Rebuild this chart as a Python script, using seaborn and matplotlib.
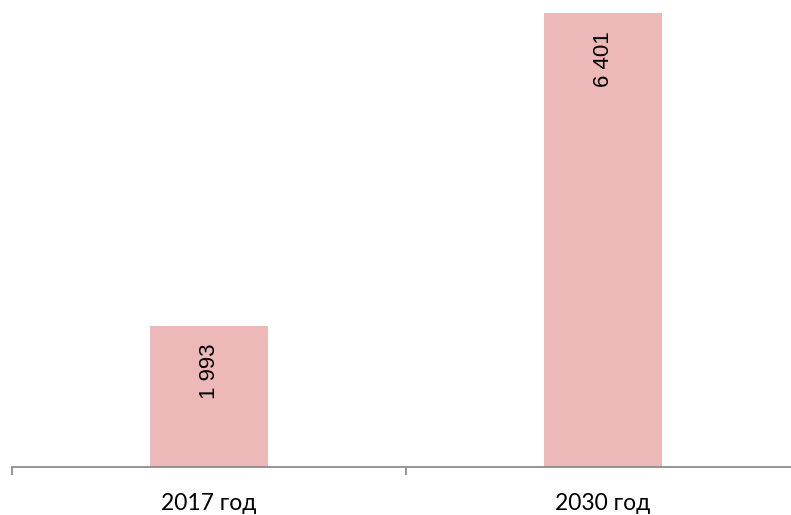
import matplotlib
matplotlib.use("Agg")
import matplotlib.pyplot as plt
import seaborn as sns
import pandas as pd

categories = ["2017 год", "2030 год"]
values = [1993, 6401]
value_labels = ["1 993", "6 401"]

sns.set_style("white")
plt.rcParams['font.family'] = ['Lato', 'DejaVu Sans']

fig = plt.figure(figsize=(7.91, 5.15), dpi=100)
ax = fig.add_axes([12/791, 48/515, 788/791, 467/515])

df = pd.DataFrame({"cat": categories, "val": values})
sns.barplot(data=df, x="cat", y="val", ax=ax, color="#ECB8B8", saturation=1,
            width=0.297, linewidth=0)

ax.set_xlim(-0.5, 1.5)
ax.set_ylim(0, 6401 * 467 / 454)
ax.set_xlabel("")
ax.set_ylabel("")
ax.set_yticks([])
for s in ["top", "right", "left"]:
    ax.spines[s].set_visible(False)
ax.spines["bottom"].set_color("#8C8C8C")
ax.spines["bottom"].set_linewidth(1.3)

ax.set_xticks([0, 1])
ax.set_xticklabels(categories, fontsize=16.5, color="black")
ax.tick_params(axis="x", which="major", length=0, pad=19, bottom=True)
ax.set_xticks([-0.5, 0.5, 1.5], minor=True)
ax.tick_params(axis="x", which="minor", length=6, width=1.3, color="#8C8C8C",
               direction="out", bottom=True)

for i, (v, lab) in enumerate(zip(values, value_labels)):
    ax.annotate(lab, xy=(i, v), xytext=(1, -18), textcoords="offset pixels",
                rotation=90, ha="center", va="top", fontsize=16,
                family=["Liberation Sans", "DejaVu Sans"], color="black")

fig.savefig("out.png", dpi=100)
